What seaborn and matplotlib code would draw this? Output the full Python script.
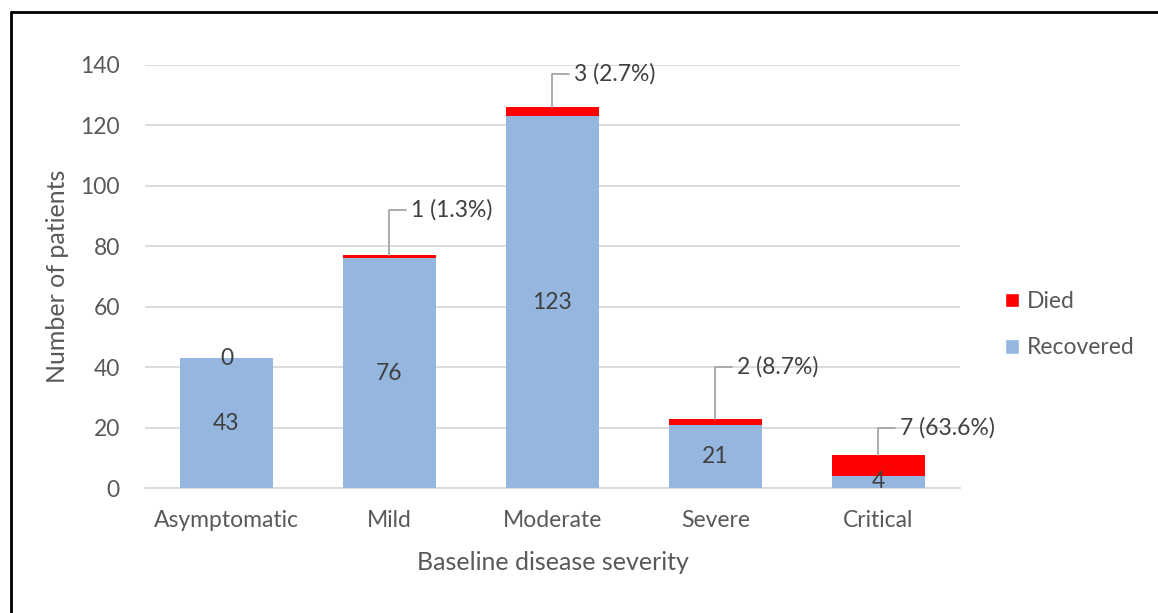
import pandas as pd
import matplotlib
matplotlib.use("Agg")
import matplotlib.pyplot as plt
from matplotlib.patches import Patch
from matplotlib.lines import Line2D
import seaborn as sns

# ----------------------------------------------------------
# DATA
# ----------------------------------------------------------

severity = ["Asymptomatic", "Mild", "Moderate", "Severe", "Critical"]
recovered = [43, 76, 123, 21, 4]
died = [0, 1, 3, 2, 7]
died_pct = ["", "1.3%", "2.7%", "8.7%", "63.6%"]

df = pd.DataFrame({"Severity": severity, "Recovered": recovered, "Died": died})
df["Total"] = df["Recovered"] + df["Died"]

# ----------------------------------------------------------
# STYLE
# ----------------------------------------------------------

sns.set_style("white")
plt.rcParams["font.family"] = ["Lato", "DejaVu Sans"]

BLUE = "#95B7DF"
RED = "#FF0000"
TXT = "#595959"
GRID = "#D9D9D9"
FS = 16.5

fig = plt.figure(figsize=(11.58, 6.13), dpi=100)
ax = fig.add_axes([0.1252, 0.2039, 0.8290 - 0.1252, 0.894 - 0.2039])

# stacked bars: total in red, recovered on top in blue
sns.barplot(data=df, x="Severity", y="Total", color=RED, width=0.57,
            saturation=1, linewidth=0, ax=ax, zorder=2)
sns.barplot(data=df, x="Severity", y="Recovered", color=BLUE, width=0.57,
            saturation=1, linewidth=0, ax=ax, zorder=3)

ax.set_ylim(0, 140)
ax.set_xlim(-0.5, 4.5)
ax.set_yticks(range(0, 141, 20))
ax.yaxis.grid(True, color=GRID, linewidth=1.3, zorder=0)
ax.set_axisbelow(True)
for s in ["top", "right", "left"]:
    ax.spines[s].set_visible(False)
ax.spines["bottom"].set_color(GRID)
ax.spines["bottom"].set_linewidth(1.3)
ax.tick_params(axis="both", length=0, labelsize=FS, colors=TXT)
ax.tick_params(axis="y", pad=18)
ax.tick_params(axis="x", pad=16)

ax.set_xlabel("Baseline disease severity", fontsize=18, color=TXT, labelpad=14)
ax.set_ylabel("Number of patients", fontsize=18, color=TXT, labelpad=8)

# ----------------------------------------------------------
# LABELS
# ----------------------------------------------------------

lift = [0, 15, 11, 17, 9]  # height of the leader above the bar top
for i, row in df.iterrows():
    ax.text(i, row["Recovered"] / 2, str(row["Recovered"]), ha="center",
            va="center", fontsize=FS, color="#404040", zorder=5)
    if row["Died"] == 0:
        ax.text(i, row["Recovered"], "0", ha="center", va="center",
                fontsize=FS, color="#404040", zorder=5)
        continue
    top = row["Total"]
    ly = top + lift[i]
    ax.plot([i, i, i + 0.1], [top, ly, ly], color="#A6A6A6",
            linewidth=1.3, zorder=4, clip_on=False)
    ax.text(i + 0.13, ly, f"{row['Died']} ({died_pct[i]})", ha="left",
            va="center", fontsize=FS, color="#404040", zorder=5)

handles = [Patch(facecolor=RED, label="Died"),
           Patch(facecolor=BLUE, label="Recovered")]
fig.legend(handles=handles, loc="center left", bbox_to_anchor=(0.85, 0.47),
           frameon=False, fontsize=FS, handlelength=0.6, handleheight=0.6,
           handletextpad=0.35, labelspacing=1.1, labelcolor=TXT)

# outer border (left and top only, the rest falls outside the crop)
fig.add_artist(Line2D([0.0095, 0.0095], [0, 0.981], color="black",
                      linewidth=2, transform=fig.transFigure))
fig.add_artist(Line2D([0.0095, 1], [0.981, 0.981], color="black",
                      linewidth=2, transform=fig.transFigure))

fig.savefig("out.png", dpi=100)
